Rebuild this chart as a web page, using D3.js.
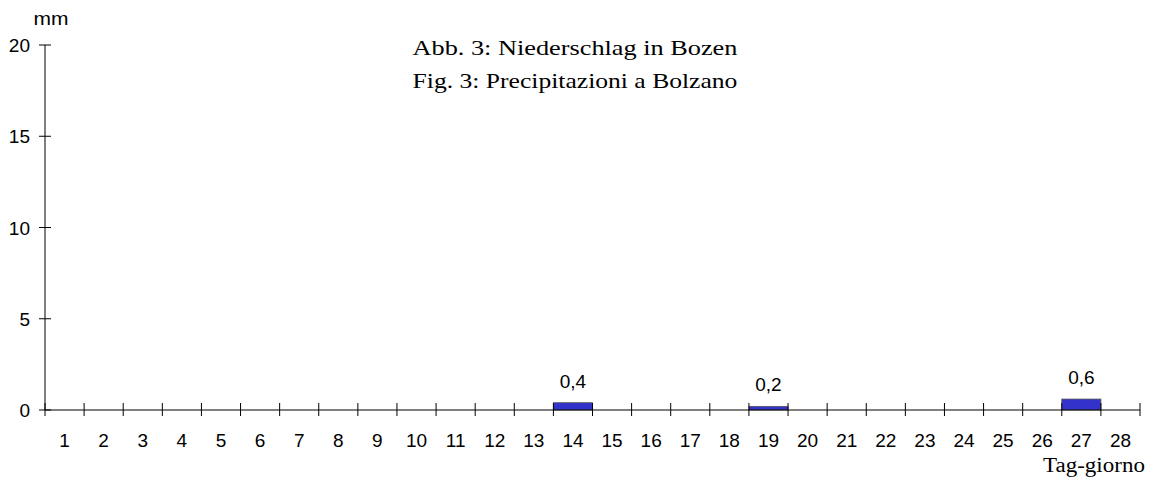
<!DOCTYPE html>
<html><head><meta charset="utf-8">
<script src="https://cdn.jsdelivr.net/npm/d3@7"></script>
<style>body{margin:0;background:#fff}</style>
</head><body>
<script>
const days = d3.range(1, 29).map(String);
const values = [0,0,0,0,0,0,0,0,0,0,0,0,0,0.4,0,0,0,0,0.2,0,0,0,0,0,0,0,0.6,0];
const yTicks = [0,5,10,15,20];
const titleLines = ["Abb. 3: Niederschlag in Bozen","Fig. 3: Precipitazioni a Bolzano"];

const W=1155,H=480;
const svg=d3.select("body").append("svg").attr("width",W).attr("height",H);
const x0=45,x1=1140,yTop=45,yBot=410;
const x=d3.scaleBand().domain(days).range([x0,x1]).padding(0);
const y=d3.scaleLinear().domain([0,20]).range([yBot,yTop]);
const sans="'Liberation Sans', Arial, sans-serif", serif="'Liberation Serif','Times New Roman',serif";

function fitText(sel, cx, targetW){
  const w = sel.node().getComputedTextLength();
  const s = targetW / w;
  sel.attr("x",0).attr("text-anchor","middle").attr("transform",`translate(${cx},0) scale(${s},1)`);
}

// bars
svg.selectAll("rect.bar").data(values.map((v,i)=>({d:days[i],v}))).join("rect")
 .filter(d=>d.v>0)
 .attr("x",d=>x(d.d)).attr("width",x.bandwidth())
 .attr("y",d=>y(d.v)).attr("height",d=>yBot-y(d.v))
 .attr("fill","#3333cc").attr("stroke","#555").attr("stroke-width",0.8);

// y axis
svg.append("line").attr("x1",x0).attr("x2",x0).attr("y1",yTop).attr("y2",yBot).attr("stroke","#000");
yTicks.forEach(t=>{
  svg.append("line").attr("x1",x0-6).attr("x2",x0+6).attr("y1",y(t)).attr("y2",y(t)).attr("stroke","#000");
  svg.append("text").attr("x",x0-15).attr("y",y(t)+7).attr("text-anchor","end")
   .attr("font-family",sans).attr("font-size",19).text(t);
});
svg.append("text").attr("x",51).attr("y",25).attr("text-anchor","middle").attr("font-family",sans).attr("font-size",19)
  .attr("textLength",35).attr("lengthAdjust","spacingAndGlyphs").text("mm");

// x axis
svg.append("line").attr("x1",x0).attr("x2",x1).attr("y1",yBot).attr("y2",yBot).attr("stroke","#000");
const edges=days.map(d=>x(d)).concat([x1]);
edges.forEach(e=>svg.append("line").attr("x1",e).attr("x2",e).attr("y1",yBot-7).attr("y2",yBot+6).attr("stroke","#000"));
days.forEach(d=>svg.append("text").attr("x",x(d)+x.bandwidth()/2).attr("y",447).attr("text-anchor","middle")
  .attr("font-family",sans).attr("font-size",19).text(d));
fitText(svg.append("text").attr("y",472).attr("font-family",serif).attr("font-size",20).text("Tag-giorno"), 1094, 102);

// value labels
values.forEach((v,i)=>{ if(v>0) svg.append("text").attr("x",x(days[i])+x.bandwidth()/2).attr("y",y(v)-15)
  .attr("text-anchor","middle").attr("font-family",sans).attr("font-size",19).text(String(v).replace(".",",")); });

// title
titleLines.forEach((t,i)=>fitText(svg.append("text").attr("y",55+i*33).attr("font-family",serif).attr("font-size",22).text(t), 575, 325));
</script>
</body></html>
